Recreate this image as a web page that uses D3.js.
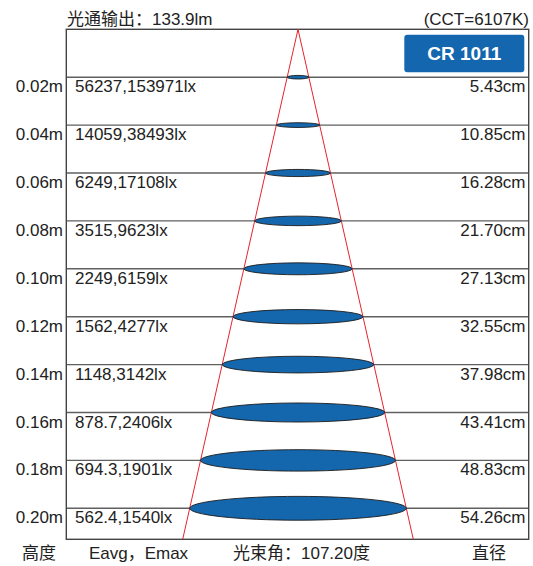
<!DOCTYPE html>
<html><head><meta charset="utf-8">
<script src="https://cdn.jsdelivr.net/npm/d3@7/dist/d3.min.js"></script>
<style>body{margin:0;background:#fff}svg{display:block}text{font-family:"Liberation Sans",Arial,"Noto Sans CJK SC",sans-serif;fill:#222}</style>
</head><body><svg id="c" width="533" height="566"></svg>
<script>
const heights = [0.02,0.04,0.06,0.08,0.10,0.12,0.14,0.16,0.18,0.20];
const heightLabels = ["0.02m","0.04m","0.06m","0.08m","0.10m","0.12m","0.14m","0.16m","0.18m","0.20m"];
const eavg = ["56237","14059","6249","3515","2249","1562","1148","878.7","694.3","562.4"];
const emax = ["153971","38493","17108","9623","6159","4277","3142","2406","1901","1540"];
const diameters = [5.43,10.85,16.28,21.70,27.13,32.55,37.98,43.41,48.83,54.26];
const title = "光通输出：133.9lm";
const cct = "(CCT=6107K)";
const model = "CR 1011";
const beamAngle = "光束角：107.20度";
const footer = ["高度","Eavg，Emax","直径"];

const svg = d3.select("#c");
const L = 66.3, R = 528.7, T = 29.3, B = 539.3, CX = 298;
const y = d3.scaleLinear().domain([0,0.20]).range([T,508.3]);
const hb = y.invert(B);
const r = d3.scaleLinear().domain([0,54.26]).range([0,216.6]); // diameter in cm -> px width

// horizontal lines
svg.append("g").selectAll("line").data(heights).join("line")
  .attr("x1",L).attr("x2",R).attr("y1",d=>y(d)).attr("y2",d=>y(d))
  .attr("stroke","#606060").attr("stroke-width",1.4);
// frame
svg.append("rect").attr("x",L).attr("y",T).attr("width",R-L).attr("height",B-T)
  .attr("fill","none").attr("stroke","#444").attr("stroke-width",1.4);

// beam lines
const last = heights.length-1;
const halfAtBottom = r(diameters[last])/2 * hb/heights[last];
[-1,1].forEach(s=>{
  svg.append("line").attr("x1",CX).attr("y1",y(0)).attr("x2",CX+s*halfAtBottom).attr("y2",B)
    .attr("stroke","#e8232b").attr("stroke-width",1);
});

// ellipses
svg.append("g").selectAll("ellipse").data(diameters).join("ellipse")
  .attr("cx",CX).attr("cy",(d,i)=>y(heights[i]))
  .attr("rx",d=>r(d)/2).attr("ry",d=>Math.max(1.8,r(d)/2*0.11))
  .attr("fill","#1466ad").attr("stroke","#1c1c1c").attr("stroke-width",0.9);

// row labels
const fs = 17;
heights.forEach((h,i)=>{
  const by = y(h)+15;
  svg.append("text").attr("x",63).attr("y",by).attr("text-anchor","end").attr("font-size",fs).text(heightLabels[i]);
  svg.append("text").attr("x",75).attr("y",by).attr("font-size",fs).text(eavg[i]+","+emax[i]+"lx");
  svg.append("text").attr("x",525.5).attr("y",by).attr("text-anchor","end").attr("font-size",fs).text(diameters[i].toFixed(2)+"cm");
});

// header
svg.append("text").attr("x",67).attr("y",24.5).attr("font-size",fs).text(title);
svg.append("text").attr("x",529).attr("y",24.5).attr("text-anchor","end").attr("font-size",fs).text(cct);

// model box
svg.append("rect").attr("x",404.3).attr("y",34.7).attr("width",120).attr("height",37.6).attr("rx",3)
  .attr("fill","#1467ae");
svg.append("text").attr("x",464.3).attr("y",60).attr("text-anchor","middle").attr("font-size",19)
  .attr("font-weight","bold").style("fill","#fff").text(model);

// footer
svg.append("text").attr("x",39).attr("y",559).attr("text-anchor","middle").attr("font-size",fs).text(footer[0]);
svg.append("text").attr("x",138.5).attr("y",559).attr("text-anchor","middle").attr("font-size",fs).text(footer[1]);
svg.append("text").attr("x",301.5).attr("y",559).attr("text-anchor","middle").attr("font-size",fs).text(beamAngle);
svg.append("text").attr("x",489).attr("y",559).attr("text-anchor","middle").attr("font-size",fs).text(footer[2]);
</script></body></html>
